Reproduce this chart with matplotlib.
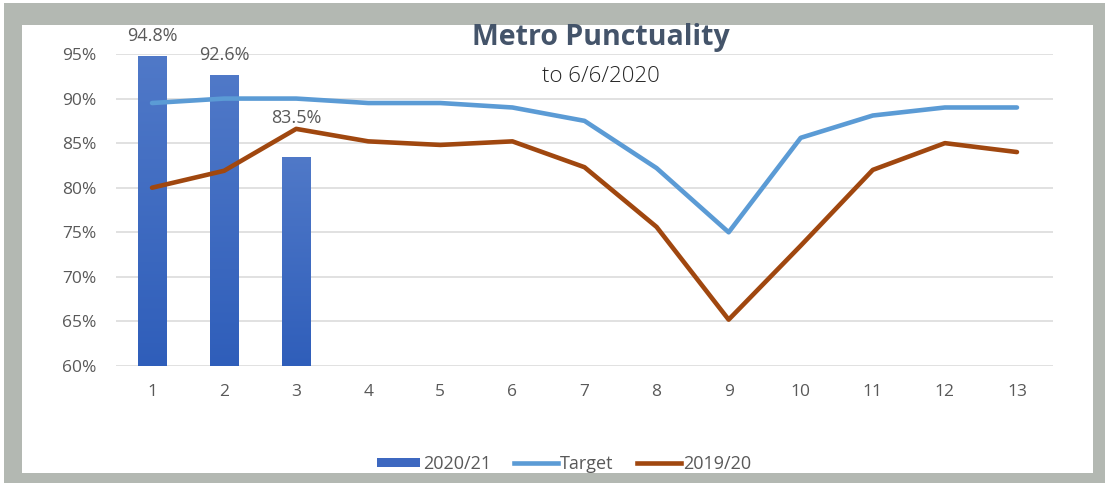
import matplotlib
matplotlib.use("Agg")
import matplotlib.pyplot as plt
import numpy as np
from matplotlib.patches import Rectangle, Patch
from matplotlib.lines import Line2D
from matplotlib.ticker import FuncFormatter
from matplotlib.colors import LinearSegmentedColormap

# ---- data ----
periods = [1, 2, 3, 4, 5, 6, 7, 8, 9, 10, 11, 12, 13]
bar_periods = [1, 2, 3]
actual_2020_21 = [94.8, 92.6, 83.5]
target = [89.5, 90.0, 90.0, 89.5, 89.5, 89.0, 87.5, 82.2, 75.0, 85.6, 88.1, 89.0, 89.0]
prev_2019_20 = [80.0, 81.9, 86.6, 85.2, 84.8, 85.2, 82.3, 75.6, 65.2, 73.5, 82.0, 85.0, 84.0]
bar_labels = ["94.8%", "92.6%", "83.5%"]
yticks = [60, 65, 70, 75, 80, 85, 90, 95]

plt.rcParams['font.family'] = ['Open Sans', 'DejaVu Sans']

W, H = 1105, 483
fig = plt.figure(figsize=(W / 100, H / 100), dpi=100)
fig.patch.set_facecolor('white')

# gray frame
frame_col = '#B3B8B2'
fig.patches.append(Rectangle((4 / W, 0), 1 - 4 / W, 1 - 3 / H, transform=fig.transFigure,
                             facecolor=frame_col, edgecolor='none', zorder=-2))
fig.patches.append(Rectangle((22 / W, 1 - 473 / H), (1093 - 22) / W, (473 - 25) / H,
                             transform=fig.transFigure, facecolor='white', edgecolor='none', zorder=-1))

ax = fig.add_axes([116 / W, 1 - 366 / H, (1053 - 116) / W, (366 - 54) / H])
ax.set_facecolor('none')

# bars with vertical gradient
bar_w = 0.4
bars = ax.bar(bar_periods, [v - 60 for v in actual_2020_21], bottom=60, width=bar_w,
              color='#3D68C0', edgecolor='none', zorder=2)
grad = np.linspace(0, 1, 256).reshape(-1, 1)
cmap = LinearSegmentedColormap.from_list('g', ['#2F5EBA', '#5079C8'])
for b in bars:
    x0, y0 = b.get_x(), b.get_y()
    im = ax.imshow(grad, extent=[x0, x0 + b.get_width(), y0, y0 + b.get_height()],
                   origin='lower', cmap=cmap, aspect='auto', zorder=2)
    im.set_clip_path(b)

# lines
ax.plot(periods, target, color='#5B9BD5', lw=3.3, solid_capstyle='round', zorder=3)
ax.plot(periods, prev_2019_20, color='#A0470F', lw=3.3, solid_capstyle='round', zorder=3)

# data labels
offsets = [8, 8, 21]
for x, v, lab, off in zip(bar_periods, actual_2020_21, bar_labels, offsets):
    ax.annotate(lab, (x, v), xytext=(0, off), textcoords='offset points',
                ha='center', va='bottom', fontsize=13, color='#595959')

ax.set_xlim(0.5, 13.5)
ax.set_ylim(60, 95)
ax.set_yticks(yticks)
ax.set_xticks(periods)
ax.yaxis.set_major_formatter(FuncFormatter(lambda v, p: f"{v:.0f}%"))
ax.grid(axis='y', color='#DCDCDC', lw=1.2, zorder=0)
ax.set_axisbelow(True)
for s in ax.spines.values():
    s.set_visible(False)
ax.tick_params(axis='both', length=0, labelsize=12.5, labelcolor='#595959')
ax.tick_params(axis='x', pad=13)
ax.tick_params(axis='y', pad=14)

# titles
fig.text(601 / W, 1 - 38 / H, "Metro Punctuality", ha='center', va='center',
         fontsize=20.5, fontweight='bold', color='#44546A')
fig.text(601 / W, 1 - 77 / H, "to 6/6/2020", ha='center', va='center',
         fontsize=16, fontweight='light', color='#262626')

# legend
handles = [Patch(facecolor='#3D68C0', edgecolor='none', label='2020/21'),
           Line2D([], [], color='#5B9BD5', lw=3.3, label='Target'),
           Line2D([], [], color='#A0470F', lw=3.3, label='2019/20')]
leg = fig.legend(handles=handles, loc='center', bbox_to_anchor=(564 / W, 1 - 464 / H),
                 ncol=3, frameon=False, fontsize=13, handlelength=2.4, handleheight=0.45,
                 columnspacing=1.3, handletextpad=0.15)
for t in leg.get_texts():
    t.set_color('#595959')

fig.savefig('out.png', dpi=100, facecolor='white')
